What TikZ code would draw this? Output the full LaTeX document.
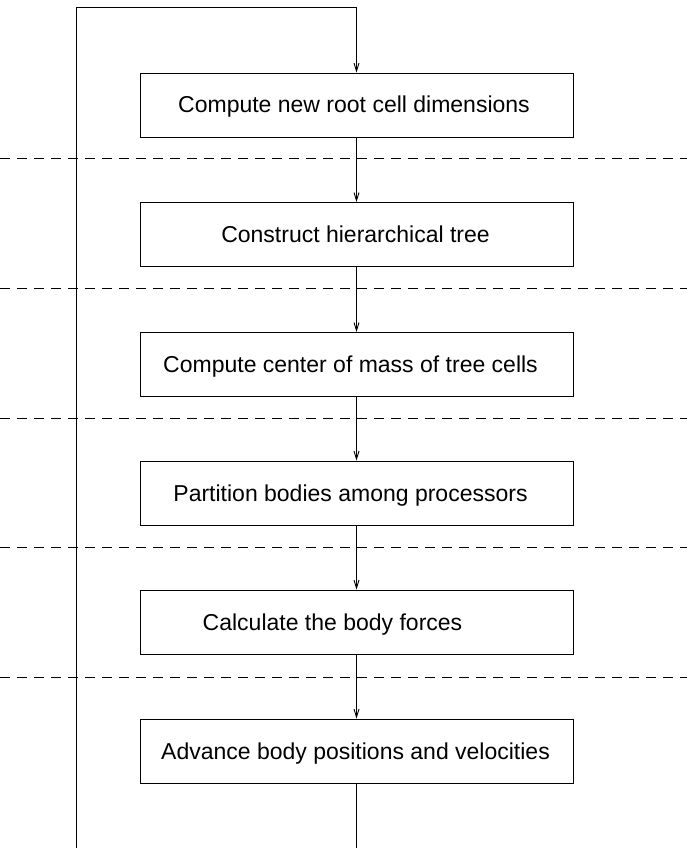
\documentclass[tikz,border=0pt]{standalone}
\usepackage{fontspec}
\setmainfont{Liberation Sans}
\usetikzlibrary{arrows.meta}

\begin{document}
\begin{tikzpicture}[x=1pt, y=-1pt, line width=0.9pt,
	stagebox/.style={draw, minimum width=433pt, minimum height=64pt, inner sep=0pt, text height=16pt, text depth=0pt, font=\fontsize{23}{27}\selectfont},
	flow/.style={-{Straight Barb[length=8pt, width=5pt]}},
	phase/.style={dash pattern=on 10pt off 7pt}]
	\useasboundingbox (0,0) rectangle (687,848);
	
	% Stages
	\node[stagebox] (root) at (356.5,105) {Compute new root cell dimensions\hspace*{5pt}};
	\node[stagebox] (tree) at (356.5,234.5) {Construct hierarchical tree\hspace*{2pt}};
	\node[stagebox] (mass) at (356.5,364.5) {Compute center of mass of tree cells\hspace*{12pt}};
	\node[stagebox] (part) at (356.5,493) {Partition bodies among processors\hspace*{12pt}};
	\node[stagebox] (force) at (356.5,622) {Calculate the body forces\hspace*{48pt}};
	\node[stagebox] (adv) at (356.5,751) {Advance body positions and velocities\hspace*{2pt}};
	
	% Phase separators
	\foreach \y in {158,288,418,547,677}
		\draw[phase] (0,\y) -- (687,\y);
	
	% Arrows between stages
	\draw[flow] (root) -- (tree);
	\draw[flow] (tree) -- (mass);
	\draw[flow] (mass) -- (part);
	\draw[flow] (part) -- (force);
	\draw[flow] (force) -- (adv);
	
	% Loop back to the top
	\coordinate (out) at (356.5,848);
	\coordinate (back) at (76,848);
	\coordinate (top) at (76,7);
	\draw (adv) -- (out);
	\draw[flow] (back) -- (top) -| (root);
\end{tikzpicture}
\end{document}
